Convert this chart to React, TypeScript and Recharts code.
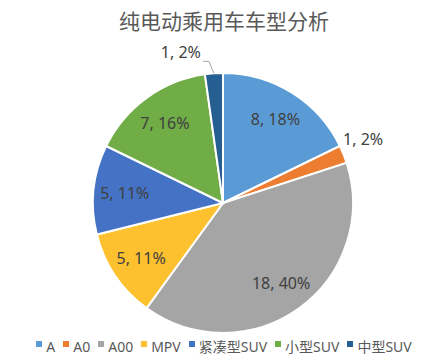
import React from 'react';
import { PieChart, Pie, Cell, Legend } from 'recharts';

const categories = ['A', 'A0', 'A00', 'MPV', '紧凑型SUV', '小型SUV', '中型SUV'];
const values = [8, 1, 18, 5, 5, 7, 1];
const colors = ['#5B9BD5', '#ED7D31', '#A5A5A5', '#FDC12F', '#4472C4', '#70AD47', '#255E91'];
const title = '纯电动乘用车车型分析';

const data = categories.map((name, i) => ({ name, value: values[i] }));

const FONT = '"Noto Sans", "Noto Sans CJK SC", sans-serif';
const RADIAN = Math.PI / 180;

const renderLabel = (props: any) => {
  const { cx, cy, midAngle, outerRadius, percent, value } = props;
  const text = `${value}, ${Math.round(percent * 100)}%`;
  const cos = Math.cos(-midAngle * RADIAN);
  const sin = Math.sin(-midAngle * RADIAN);
  if (percent >= 0.05) {
    const r = outerRadius * 0.76;
    return (
      <text x={cx + r * cos} y={cy + r * sin} fill="#404040" fontSize={16} fontFamily={FONT}
        textAnchor="middle" dominantBaseline="central">{text}</text>
    );
  }
  if (cos > 0.5) {
    const r = outerRadius + 6;
    return (
      <text x={cx + r * cos - 6} y={cy + r * sin - 13} fill="#404040" fontSize={16} fontFamily={FONT}
        textAnchor="start" dominantBaseline="central">{text}</text>
    );
  }
  const sx = cx + outerRadius * cos;
  const sy = cy + outerRadius * sin;
  const ex = sx - 5;
  const ey = sy - 12;
  const tx = ex - 6;
  return (
    <g>
      <polyline points={`${sx},${sy} ${ex},${ey} ${tx},${ey}`} fill="none" stroke="#A6A6A6" strokeWidth={1} />
      <text x={tx - 2} y={ey - 9} fill="#404040" fontSize={16} fontFamily={FONT}
        textAnchor="end" dominantBaseline="central">{text}</text>
    </g>
  );
};

const renderLegend = () => (
  <div style={{ display: 'flex', justifyContent: 'center', alignItems: 'center', fontFamily: FONT, fontSize: 14, color: '#595959' }}>
    {categories.map((c, i) => (
      <div key={c} style={{ display: 'flex', alignItems: 'flex-start', marginRight: i === categories.length - 1 ? 0 : 8 }}>
        <span style={{ display: 'inline-block', width: 6, height: 6, background: colors[i], marginTop: 4, marginRight: 4 }} />
        <span style={{ lineHeight: '20px' }}>{c}</span>
      </div>
    ))}
  </div>
);

export default function App() {
  return (
    <div style={{ position: 'absolute', left: 0, top: 0, width: 448, height: 364, background: '#fff' }}>
      <div style={{ position: 'absolute', left: 0, top: 5, width: 448, textAlign: 'center', fontFamily: '"Noto Sans CJK SC", sans-serif', fontSize: 21, color: '#595959', lineHeight: '30px' }}>
        {title}
      </div>
      <PieChart width={448} height={364}>
        <Pie
          data={data}
          dataKey="value"
          nameKey="name"
          cx={218}
          cy={198}
          outerRadius={130}
          startAngle={90}
          endAngle={-270}
          stroke="#ffffff"
          strokeWidth={2}
          label={renderLabel}
          labelLine={false}
          isAnimationActive={false}
        >
          {data.map((d, i) => (
            <Cell key={d.name} fill={colors[i]} />
          ))}
        </Pie>
        <Legend content={renderLegend} verticalAlign="bottom" wrapperStyle={{ bottom: 7 }} />
      </PieChart>
    </div>
  );
}
